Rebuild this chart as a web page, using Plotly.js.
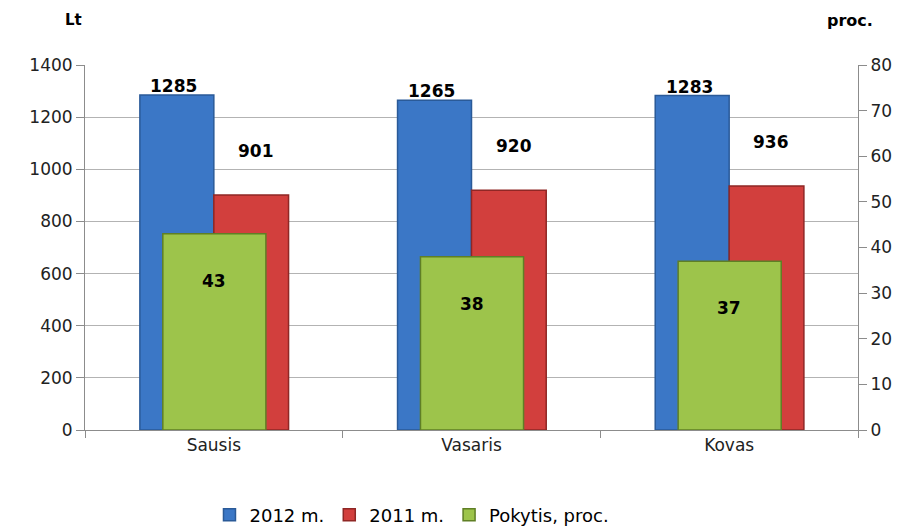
<!DOCTYPE html>
<html><head><meta charset="utf-8">
<script src="https://cdn.plot.ly/plotly-3.0.1.min.js"></script>
<style>html,body{margin:0;padding:0;background:#fff}#c{width:910px;height:527px}</style>
</head><body><div id="c"></div>
<script>
const months = ["Sausis", "Vasaris", "Kovas"];
const y2012 = [1285, 1265, 1283];
const y2011 = [901, 920, 936];
const change = [43, 38, 37];
const seriesNames = ["2012 m.", "2011 m.", "Pokytis, proc."];

const font = "DejaVu Sans, sans-serif";
const bold = "DejaVu Sans, sans-serif";
const traces = [
  {type:"bar", name:seriesNames[0], x:months, y:y2012, offset:-0.287, width:0.287,
   marker:{color:"#3b77c6", line:{color:"#2a5a98", width:1.5}}},
  {type:"bar", name:seriesNames[1], x:months, y:y2011, offset:0, width:0.29,
   marker:{color:"#d23f3d", line:{color:"#8f2725", width:1.5}}},
  {type:"bar", name:seriesNames[2], x:months, y:change, yaxis:"y2", offset:-0.198, width:0.4,
   marker:{color:"#9dc44b", line:{color:"#5f7f25", width:1.5}}}
];
const ann = [];
months.forEach((m,i)=>{
  ann.push({x:m, y:y2012[i], xref:"x", yref:"y", text:"<b>"+y2012[i]+"</b>", showarrow:false,
    xshift:-40, yshift:9, font:{family:bold, size:17, color:"#000"}});
  ann.push({x:m, y:y2011[i], xref:"x", yref:"y", text:"<b>"+y2011[i]+"</b>", showarrow:false,
    xshift:42, yshift:44, font:{family:bold, size:17, color:"#000"}});
  ann.push({x:m, y:change[i], xref:"x", yref:"y2", text:"<b>"+change[i]+"</b>", showarrow:false,
    xshift:0, yshift:-47, font:{family:bold, size:17, color:"#000"}});
});
ann.push({xref:"paper", yref:"paper", x:-0.0149, y:1.123, xanchor:"center", yanchor:"middle",
  text:"<b>Lt</b>", showarrow:false, font:{family:bold, size:15, color:"#000"}});
ann.push({xref:"paper", yref:"paper", x:0.9897, y:1.123, xanchor:"center", yanchor:"middle",
  text:"<b>proc.</b>", showarrow:false, font:{family:bold, size:16, color:"#000"}});

const layout = {
  width:910, height:527,
  margin:{l:85, r:52, t:65, b:97, autoexpand:false},
  paper_bgcolor:"#fff", plot_bgcolor:"#fff",
  barmode:"overlay",
  showlegend:true,
  legend:{orientation:"h", x:0.423, xanchor:"center", y:-0.233, yanchor:"middle",
    font:{family:font, size:18, color:"#000"}, traceorder:"normal", itemwidth:30},
  font:{family:font, size:17, color:"#000"},
  xaxis:{type:"category", showline:true, linecolor:"#8c8c8c", linewidth:1,
    ticks:"outside", tickson:"boundaries", ticklen:7, tickcolor:"#8c8c8c",
    showgrid:false, tickfont:{family:font, size:17, color:"#222"}, fixedrange:true},
  yaxis:{range:[0,1400], dtick:200, showline:true, linecolor:"#8c8c8c", linewidth:1,
    ticks:"outside", ticklen:8, tickcolor:"#8c8c8c", gridcolor:"#b3b3b3", gridwidth:1,
    zeroline:false, tickfont:{family:font, size:17, color:"#222"}},
  yaxis2:{range:[0,80], dtick:10, overlaying:"y", side:"right", showline:true,
    linecolor:"#8c8c8c", linewidth:1, ticks:"outside", ticklen:8, tickcolor:"#8c8c8c",
    showgrid:false, zeroline:false, tickfont:{family:font, size:17, color:"#222"}},
  annotations:ann
};
Plotly.newPlot("c", traces, layout, {displayModeBar:false, staticPlot:true});
</script></body></html>
